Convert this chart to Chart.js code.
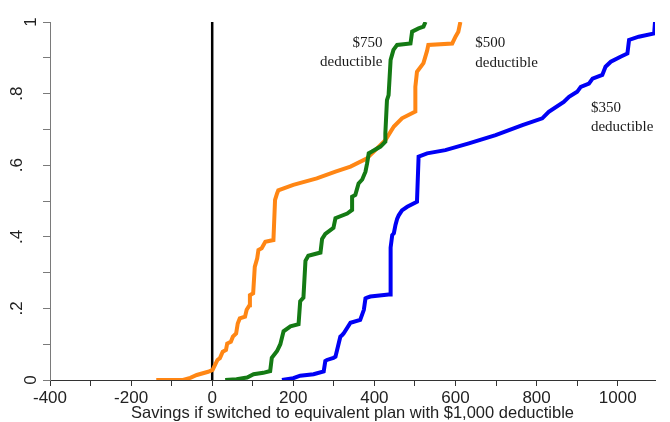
<!DOCTYPE html>
<html lang="en">
<head>
  <meta charset="UTF-8" />
  <title>Savings if switched to equivalent plan with $1,000 deductible</title>
  <style>
  body {
    margin: 0;
    padding: 0;
    background: #ffffff;
  }
  .wrap {
    width: 670px;
    height: 422px;
  }
  </style>
  <script src="https://cdn.jsdelivr.net/npm/chart.js"></script>
</head>
<body>
  <div class="wrap">
    <canvas id="cdfChart" width="670" height="422"></canvas>
  </div>

  <script>
  // $350 deductible (blue)
  const blueX = [172, 200, 217, 250, 275, 279, 283, 299, 304, 316, 320, 324, 341, 365, 374, 378, 382, 390, 435, 440, 440, 444, 448, 452, 456, 460, 468, 481, 505, 509, 530, 575, 633, 699, 765, 814, 830, 867, 880, 900, 909, 929, 938, 962, 970, 983, 1007, 1024, 1028, 1052, 1090, 1092];
  const blueY = [0, 0.005, 0.012, 0.016, 0.024, 0.053, 0.056, 0.062, 0.065, 0.121, 0.125, 0.13, 0.16, 0.168, 0.196, 0.228, 0.23, 0.233, 0.239, 0.239, 0.37, 0.405, 0.41, 0.433, 0.45, 0.46, 0.474, 0.484, 0.498, 0.624, 0.633, 0.642, 0.661, 0.684, 0.712, 0.731, 0.749, 0.777, 0.791, 0.805, 0.819, 0.828, 0.842, 0.852, 0.875, 0.889, 0.903, 0.912, 0.95, 0.959, 0.968, 1.0];

  // $500 deductible (orange)
  const orangeX = [-138, -72, -54, -38, -10, 1, 7, 13, 19, 26, 34, 37, 46, 51, 59, 63, 68, 81, 85, 92, 93, 101, 105, 111, 114, 122, 131, 151, 155, 160, 163, 200, 258, 304, 341, 382, 386, 427, 448, 468, 501, 501, 505, 521, 530, 533, 592, 600, 607, 612];
  const orangeY = [0, 0, 0.006, 0.014, 0.023, 0.028, 0.042, 0.056, 0.061, 0.079, 0.084, 0.102, 0.107, 0.121, 0.13, 0.158, 0.172, 0.177, 0.196, 0.209, 0.237, 0.242, 0.316, 0.34, 0.363, 0.368, 0.386, 0.391, 0.503, 0.521, 0.53, 0.545, 0.563, 0.582, 0.596, 0.619, 0.624, 0.67, 0.708, 0.731, 0.75, 0.819, 0.861, 0.885, 0.92, 0.936, 0.94, 0.959, 0.973, 1.0];

  // $750 deductible (green)
  const greenX = [32, 60, 86, 102, 126, 143, 147, 160, 168, 176, 193, 213, 217, 225, 230, 237, 267, 271, 279, 299, 304, 333, 345, 345, 353, 361, 370, 378, 382, 386, 394, 415, 427, 427, 431, 435, 440, 447, 456, 489, 493, 509, 521, 526];
  const greenY = [0, 0.002, 0.007, 0.016, 0.02, 0.025, 0.062, 0.081, 0.1, 0.136, 0.15, 0.156, 0.22, 0.23, 0.333, 0.347, 0.356, 0.394, 0.408, 0.425, 0.452, 0.465, 0.475, 0.512, 0.517, 0.549, 0.56, 0.582, 0.605, 0.633, 0.638, 0.652, 0.666, 0.689, 0.782, 0.796, 0.894, 0.922, 0.936, 0.94, 0.973, 0.982, 0.987, 1.0];

  // zero-savings reference line
  const zeroX = [0, 0];
  const zeroY = [0, 1];

  const xTickValues = [-400, -300, -200, -100, 0, 100, 200, 300, 400, 500, 600, 700, 800, 900, 1000];
  const xTickLabels = ['-400', '', '-200', '', '0', '', '200', '', '400', '', '600', '', '800', '', '1000'];
  const yTickValues = [0, 0.1, 0.2, 0.3, 0.4, 0.5, 0.6, 0.7, 0.8, 0.9, 1];
  const yTickLabels = ['0', '', '.2', '', '.4', '', '.6', '', '.8', '', '1'];

  const noteText = ['$750', 'deductible', '$500', 'deductible', '$350', 'deductible'];
  const noteX = [420, 420, 649, 649, 934, 934];
  const noteY = [0.931, 0.878, 0.929, 0.875, 0.748, 0.696];
  const noteAlign = ['right', 'right', 'left', 'left', 'left', 'left'];

  function toPoints(xs, ys) {
    return xs.map((x, i) => ({ x: x, y: ys[i] }));
  }

  // rotated y labels and the curve notes
  const textPlugin = {
    id: 'textPlugin',
    afterDraw(chart) {
      const { ctx, scales: { x, y } } = chart;
      ctx.save();
      ctx.fillStyle = '#222';
      ctx.font = '17px "Liberation Sans", Arial, sans-serif';
      ctx.textAlign = 'center';
      ctx.textBaseline = 'alphabetic';
      yTickValues.forEach((v, i) => {
        const label = yTickLabels[i];
        if (!label) return;
        const bx = label.startsWith('.') ? 22 : 36;
        ctx.save();
        ctx.translate(bx, y.getPixelForValue(v));
        ctx.rotate(-Math.PI / 2);
        ctx.fillText(label, 0, 0);
        ctx.restore();
      });

      ctx.fillStyle = '#1a1a1a';
      ctx.font = '15px "Liberation Serif", "Times New Roman", serif';
      noteText.forEach((t, i) => {
        ctx.textAlign = noteAlign[i];
        ctx.fillText(t, x.getPixelForValue(noteX[i]), y.getPixelForValue(noteY[i]));
      });
      ctx.restore();
    }
  };

  const ctx = document.getElementById('cdfChart').getContext('2d');
  new Chart(ctx, {
    type: 'scatter',
    data: {
      datasets: [
        {
          label: '$750 deductible',
          data: toPoints(greenX, greenY),
          borderColor: '#147a14',
        },
        {
          label: '$500 deductible',
          data: toPoints(orangeX, orangeY),
          borderColor: '#ff8614',
        },
        {
          label: '$350 deductible',
          data: toPoints(blueX, blueY),
          borderColor: '#0000f5',
        },
        {
          label: 'zero',
          data: toPoints(zeroX, zeroY),
          borderColor: '#000000',
          borderWidth: 2.5,
        }
      ]
    },
    options: {
      responsive: false,
      animation: false,
      events: [],
      showLine: true,
      layout: {
        padding: { top: 22, right: 15, bottom: 0, left: 0 }
      },
      elements: {
        point: { radius: 0 },
        line: { borderWidth: 4, tension: 0, fill: false }
      },
      plugins: {
        legend: { display: false },
        tooltip: { enabled: false }
      },
      scales: {
        x: {
          type: 'linear',
          min: -400,
          max: 1092,
          afterBuildTicks: (scale) => {
            scale.ticks = xTickValues.map(v => ({ value: v }));
          },
          afterFit: (scale) => { scale.height = 42; },
          border: { display: true, color: '#333', width: 1 },
          grid: {
            drawOnChartArea: false,
            drawTicks: true,
            tickLength: 6,
            color: '#333'
          },
          ticks: {
            autoSkip: false,
            maxRotation: 0,
            padding: 2,
            color: '#222',
            font: { family: '"Liberation Sans", Arial, sans-serif', size: 17 },
            callback: (value, index) => xTickLabels[index]
          },
          title: {
            display: true,
            text: 'Savings if switched to equivalent plan with $1,000 deductible',
            color: '#222',
            padding: 0,
            font: { family: '"Liberation Sans", Arial, sans-serif', size: 16.5, lineHeight: 1.03 }
          }
        },
        y: {
          type: 'linear',
          min: 0,
          max: 1,
          afterBuildTicks: (scale) => {
            scale.ticks = yTickValues.map(v => ({ value: v }));
          },
          afterFit: (scale) => { scale.width = 50; },
          border: { display: true, color: '#7a7a7a', width: 1 },
          grid: {
            drawOnChartArea: false,
            drawTicks: true,
            tickLength: 7,
            color: '#7a7a7a'
          },
          ticks: { display: false }
        }
      }
    },
    plugins: [textPlugin]
  });
  </script>
</body>
</html>
